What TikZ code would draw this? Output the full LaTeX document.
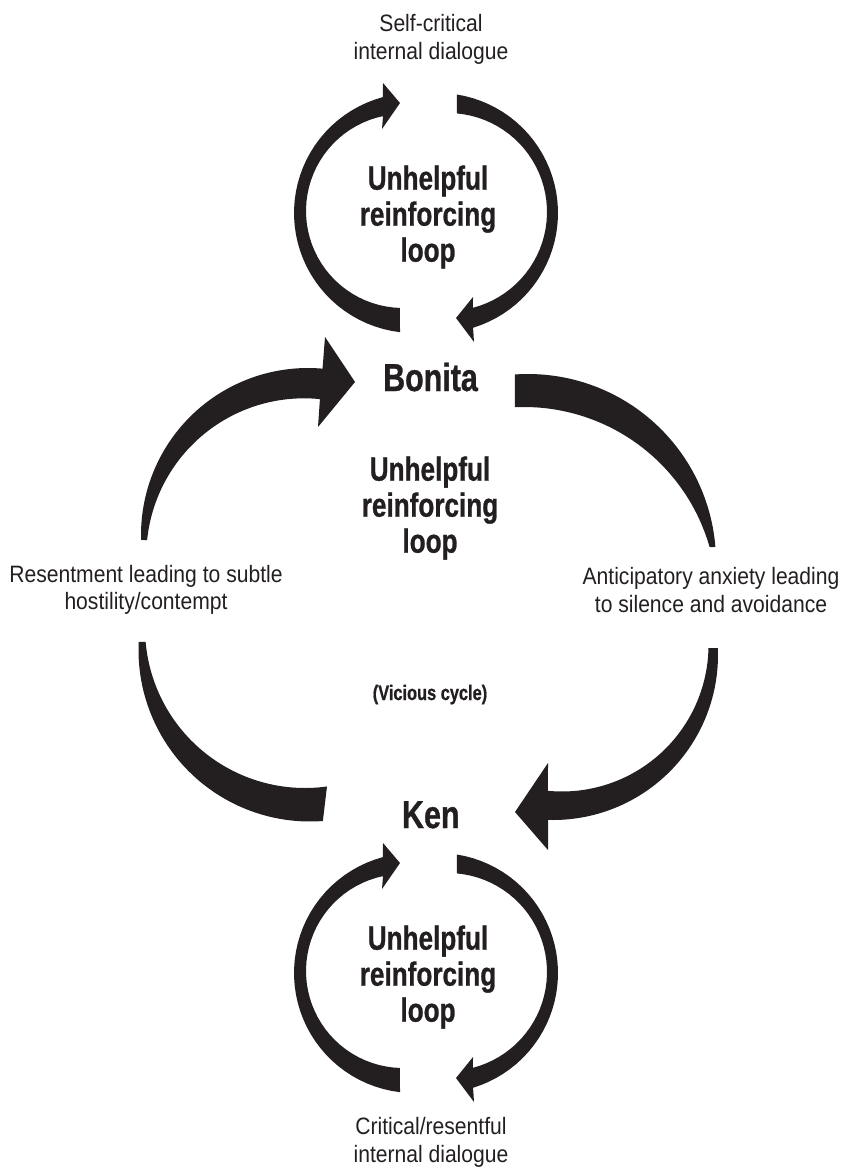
\documentclass[tikz,border=0pt]{standalone}
\usepackage{fontspec}
\setmainfont{Liberation Sans}[FakeStretch=0.89]
\newfontfamily\condbold{Liberation Sans}[FakeStretch=0.78, BoldFeatures={FakeBold=0.8}]
\definecolor{ink}{RGB}{35,31,32}
\begin{document}
\begin{tikzpicture}[x=1pt, y=-1pt,
  band/.style={fill=ink, draw=none},
  plain/.style={font=\fontsize{23.7}{27.5}\selectfont, text=ink, align=center, inner sep=0pt},
  person/.style={font=\condbold\bfseries\fontsize{39}{42}\selectfont, text=ink, inner sep=0pt},
  loopnote/.style={font=\condbold\bfseries\fontsize{33.5}{36}\selectfont, text=ink, align=center, inner sep=0pt},
  cyclenote/.style={font=\condbold\bfseries\fontsize{21}{24}\selectfont, text=ink, inner sep=0pt},
  smallloop/.pic={
    % left band, rising to an arrowhead at the top
    \fill[band] plot[domain=96.7:255,samples=40] ({414+120*cos(\x)},{213+120*sin(\x)})
      -- (383,83) -- (400,103) -- (382,129)
      -- plot[domain=258.1:91.8,samples=40] ({403+97*cos(\x)},{211+97*sin(\x)}) -- cycle;
    % right band, falling to an arrowhead at the bottom
    \fill[band] plot[domain=-81:73,samples=40] ({438+120*cos(\x)},{213+120*sin(\x)})
      -- (474,342) -- (456,318) -- (473,297)
      -- plot[domain=75.4:-84.8,samples=40] ({448+99*cos(\x)},{212+99*sin(\x)}) -- cycle;
  }]
\useasboundingbox (0,0) rectangle (847,1167);

% small self-talk loops above Bonita and below Ken
\pic at (0,0) {smallloop};
\pic at (0,760) {smallloop};

% big loop: Resentment -> Bonita
\fill[band] plot[domain=178.3:275,samples=60] ({308+167*cos(\x)},{535+167*sin(\x)})
  -- (325,337) -- (355,382) -- (318,427)
  -- plot[domain=275.8:185.8,samples=60] ({304+157.7*cos(\x)},{556+157.7*sin(\x)}) -- cycle;
% Bonita -> Anticipatory anxiety
\fill[band] plot[domain=-94:-4.6,samples=60] ({528+188*cos(\x)},{562+188*sin(\x)})
  -- plot[domain=-15.9:-92.7,samples=60] ({524+193*cos(\x)},{600+193*sin(\x)}) -- cycle;
% Anticipatory anxiety -> Ken
\fill[band] plot[domain=-2.4:91.7,samples=60] ({553+165*cos(\x)},{655+165*sin(\x)})
  -- (548,850) -- (515,812) -- (548,763)
  -- plot[domain=95.5:1.2,samples=60] ({562+146.5*cos(\x)},{645+146.5*sin(\x)}) -- cycle;
% Ken -> Resentment
\fill[band] plot[domain=182.7:85.7,samples=60] ({310+171.5*cos(\x)},{650+171.5*sin(\x)})
  -- plot[domain=82.1:175,samples=60] ({305+160*cos(\x)},{628+160*sin(\x)}) -- cycle;

% texts
\node[plain] (selfcrit) at (431,39.4) {Self-critical\\internal dialogue};
\node[loopnote] (looptop) at (428,217) {Unhelpful\\reinforcing\\loop};
\node[person, anchor=base] (bonita) at (430.5,391) {Bonita};
\node[loopnote] (loopmid) at (430,508) {Unhelpful\\reinforcing\\loop};
\node[plain] (resent) at (146,590) {Resentment leading to subtle\\hostility/contempt};
\node[plain] (anxiety) at (711,590) {Anticipatory anxiety leading\\to silence and avoidance};
\node[cyclenote, anchor=base] (vicious) at (430,700) {(Vicious cycle)};
\node[person, anchor=base] (ken) at (430.8,828) {Ken};
\node[loopnote] (loopbot) at (428,977) {Unhelpful\\reinforcing\\loop};
\node[plain] (critres) at (431,1142.4) {Critical/resentful\\internal dialogue};
\end{tikzpicture}
\end{document}
